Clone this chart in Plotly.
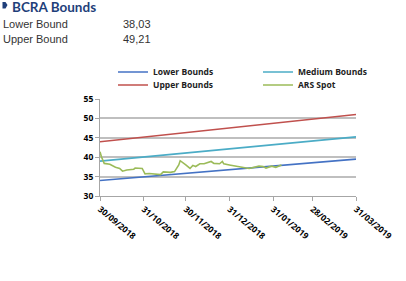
import plotly.graph_objects as go

# ---------------- data ----------------
bound_dates = ["2018-09-30", "2019-03-31"]
lower_bounds = [34.0, 39.5]
upper_bounds = [44.0, 51.0]
medium_bounds = [39.0, 45.25]

spot_dates = ["2018-09-30", "2018-10-01", "2018-10-03", "2018-10-07", "2018-10-11",
              "2018-10-14", "2018-10-16", "2018-10-19", "2018-10-24", "2018-10-25",
              "2018-10-30", "2018-11-01", "2018-11-04", "2018-11-07", "2018-11-12",
              "2018-11-14", "2018-11-19", "2018-11-22", "2018-11-25", "2018-11-26",
              "2018-11-28", "2018-11-30", "2018-12-03", "2018-12-05", "2018-12-07",
              "2018-12-10", "2018-12-13", "2018-12-16", "2018-12-18", "2018-12-20",
              "2018-12-24", "2018-12-26", "2018-12-27", "2018-12-31", "2019-01-05",
              "2019-01-09", "2019-01-14", "2019-01-18", "2019-01-21", "2019-01-24",
              "2019-01-26", "2019-01-30", "2019-02-02", "2019-02-06"]
spot_values = [41.4, 40.1, 38.4, 38.2, 37.4,
               37.1, 36.4, 36.7, 36.9, 37.2,
               37.1, 35.7, 35.8, 35.7, 35.5,
               36.2, 36.1, 36.3, 38.0, 39.1,
               38.6, 38.0, 37.1, 37.9, 37.6,
               38.3, 38.3, 38.6, 38.9, 38.4,
               38.3, 38.9, 38.3, 38.0, 37.6,
               37.4, 37.1, 37.4, 37.7, 37.6,
               37.2, 37.7, 37.4, 38.0]

tick_dates = ["2018-09-30", "2018-10-31", "2018-11-30", "2018-12-31",
              "2019-01-31", "2019-02-28", "2019-03-31"]
tick_labels = ["30/09/2018", "31/10/2018", "30/11/2018", "31/12/2018",
               "31/01/2019", "28/02/2019", "31/03/2019"]

header_title = "BCRA Bounds"
header_labels = ["Lower Bound", "Upper Bound"]
header_values = ["38,03", "49,21"]

# ---------------- layout geometry (pixels) ----------------
W, H = 406, 281
L, R, T, B = 100, 50, 99, 85
PW, PH = W - L - R, H - T - B


def px(xp):
    return (xp - L) / PW


def py(yp):
    return (H - B - yp) / PH


# ---------------- figure ----------------
fig = go.Figure()
lw = 1.6
fig.add_trace(go.Scatter(x=bound_dates, y=lower_bounds, mode="lines", name="Lower Bounds",
                         line=dict(color="#4472C4", width=lw), legend="legend"))
fig.add_trace(go.Scatter(x=bound_dates, y=medium_bounds, mode="lines", name="Medium Bounds",
                         line=dict(color="#4BACC6", width=lw), legend="legend2"))
fig.add_trace(go.Scatter(x=bound_dates, y=upper_bounds, mode="lines", name="Upper Bounds",
                         line=dict(color="#C0504D", width=lw), legend="legend3"))
fig.add_trace(go.Scatter(x=spot_dates, y=spot_values, mode="lines", name="ARS Spot",
                         line=dict(color="#9BBB59", width=lw), legend="legend4"))

tick_font = dict(family="Open Sans", size=8.5, color="#000000", weight="bold")
legend_common = dict(orientation="h",
                     font=dict(family="Open Sans", size=8.5, color="#222222", weight="bold"),
                     bgcolor="rgba(0,0,0,0)", itemwidth=30,
                     xanchor="left", yanchor="middle")

fig.update_layout(
    width=W, height=H,
    margin=dict(l=L, r=R, t=T, b=B, autoexpand=False),
    paper_bgcolor="white", plot_bgcolor="white",
    legend=dict(x=px(113), y=py(72), **legend_common),
    legend2=dict(x=px(258), y=py(72), **legend_common),
    legend3=dict(x=px(113), y=py(85), **legend_common),
    legend4=dict(x=px(258), y=py(85), **legend_common),
    xaxis=dict(type="date", range=["2018-09-30", "2019-03-31"],
               tickvals=tick_dates, ticktext=tick_labels, tickangle=40,
               showgrid=False, showline=True, linecolor="#A6A6A6", linewidth=1,
               ticks="outside", ticklen=4, tickcolor="#A6A6A6", tickfont=tick_font),
    yaxis=dict(range=[30, 55], dtick=5, tick0=30,
               showgrid=True, gridcolor="#BFBFBF", gridwidth=1.5,
               showline=True, linecolor="#A6A6A6", linewidth=1,
               ticks="outside", ticklen=4, tickcolor="#A6A6A6", tickfont=tick_font,
               zeroline=False),
    showlegend=True,
)

# header
fig.add_annotation(text="<b>" + header_title + "</b>", xref="paper", yref="paper",
                   x=px(10), y=py(6.5), xanchor="left", yanchor="middle",
                   showarrow=False,
                   font=dict(family="Lato", size=13.5, color="#1F3F7A"))
fig.add_shape(type="path", xref="paper", yref="paper",
              path="M {x0} {y0} L {x1} {y0} L {x2} {ym} L {x1} {y1} L {x0} {y1} Z".format(
                  x0=px(2.5), x1=px(5.5), x2=px(7.5), y0=py(2), ym=py(5), y1=py(8.5)),
              fillcolor="#1F3F7A", line=dict(width=0))
for label, val, yy in zip(header_labels, header_values, [24, 38.5]):
    fig.add_annotation(text=label, xref="paper", yref="paper",
                       x=px(1), y=py(yy), xanchor="left", yanchor="middle",
                       showarrow=False, font=dict(family="Liberation Sans", size=11, color="#333333"))
    fig.add_annotation(text=val, xref="paper", yref="paper",
                       x=px(121), y=py(yy), xanchor="left", yanchor="middle",
                       showarrow=False, font=dict(family="Liberation Sans", size=11, color="#333333"))

fig.write_html("out.html", config={"displayModeBar": False},
               post_script="document.body.style.margin='0';document.body.style.padding='0';")
